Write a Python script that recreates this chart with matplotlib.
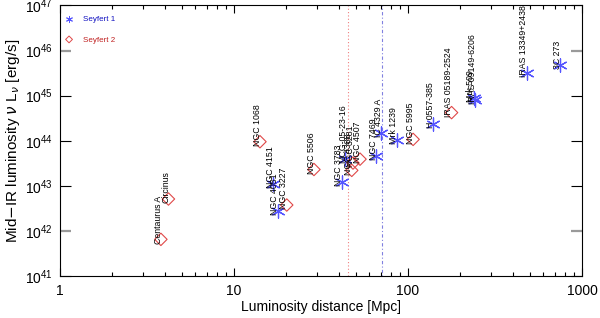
import matplotlib
matplotlib.use("Agg")
import matplotlib.pyplot as plt
from matplotlib.ticker import LogLocator, FixedLocator, NullFormatter

plt.rcParams['font.family'] = ['Liberation Sans', 'DejaVu Sans']

# Seyfert 1 (stars)
sy1_names = ["NGC 4151", "NGC 4051", "NGC 3783", "MCG-05-23-16", "NGC 7469",
             "IC 4329 A", "Mrk 1239", "H 0557-385", "Mrk 509", "IRAS 09149-6206",
             "IRAS 13349+2438", "3C 273"]
sy1_dist = [16.8, 17.8, 41.6, 43.5, 65.5, 70.0, 86.0, 140.0, 238.0, 243.0, 481.0, 748.0]
sy1_lum = [1.08e43, 2.76e42, 1.23e43, 3.9e43, 4.6e43, 1.48e44, 1.04e44, 2.35e44,
           8.8e44, 8.0e44, 3.2e45, 4.8e45]

# Seyfert 2 (diamonds)
sy2_names = ["Centaurus A", "Circinus", "NGC 1068", "NGC 3227", "NGC 5506",
             "NGC 4388", "NGC 3281", "NGC 4507", "NGC 5995", "IRAS 05189-2524"]
sy2_dist = [3.8, 4.2, 14.1, 20.1, 28.8, 47.5, 48.3, 53.0, 107.0, 178.0]
sy2_lum = [6.5e41, 5.1e42, 9.5e43, 3.75e42, 2.3e43, 2.2e43, 3.2e43, 3.9e43, 1.07e44, 4.2e44]

# dotted reference distances
red_line = 45.0
blue_line = 70.6

star_col = "#5555ff"
diam_col = "#e04848"

fig = plt.figure(figsize=(6.0, 3.18), dpi=100)
ax = fig.add_axes([0.1, 0.132, 0.87, 0.851])

ax.axvline(red_line, color="#f08080", lw=0.8, ls=(0, (1, 2)))
ax.axvline(blue_line, color="#8080e0", lw=0.8, ls=(0, (1, 2, 3, 2)))

ax.scatter(sy1_dist, sy1_lum, marker=(6, 2, 0), s=90, color=star_col, lw=0.9, zorder=3)
ax.scatter(sy2_dist, sy2_lum, marker="D", s=40, facecolor="none", edgecolor=diam_col,
           lw=0.8, zorder=3)

for n, x, y in zip(sy1_names, sy1_dist, sy1_lum):
    ax.annotate(n, (x, y), xytext=(-2, -3), textcoords="offset points", rotation=90,
                ha="center", va="bottom", fontsize=6.3, zorder=4)
for n, x, y in zip(sy2_names, sy2_dist, sy2_lum):
    ax.annotate(n, (x, y), xytext=(-2, -3), textcoords="offset points", rotation=90,
                ha="center", va="bottom", fontsize=6.3, zorder=4)

ax.set_xscale("log")
ax.set_yscale("log")
ax.set_xlim(1, 1000)
ax.set_ylim(1e41, 1e47)

ax.xaxis.set_major_locator(FixedLocator([1, 10, 100, 1000]))
ax.set_xticklabels(["1", "10", "100", "1000"])
ax.xaxis.set_minor_locator(LogLocator(base=10, subs=range(2, 10)))
ax.xaxis.set_minor_formatter(NullFormatter())
ax.yaxis.set_major_locator(FixedLocator([1e41, 1e42, 1e43, 1e44, 1e45, 1e46, 1e47]))
ax.yaxis.set_minor_locator(FixedLocator([]))
ax.tick_params(which="both", direction="in", top=True, right=True, labelsize=10, width=0.8)
ax.tick_params(which="major", axis="x", length=6, pad=6)
ax.tick_params(which="minor", axis="x", length=3)
ax.tick_params(which="major", axis="y", length=8, pad=5)
for sp in ax.spines.values():
    sp.set_linewidth(0.8)

# the 10^42 and 10^46 ticks come out grey and thicker in the original
for i in (1, 5):
    t = ax.yaxis.get_major_ticks()[i]
    for ln in (t.tick1line, t.tick2line):
        ln.set_markeredgecolor("#9a9a9a")
        ln.set_markeredgewidth(1.6)

ax.set_xlabel("Luminosity distance [Mpc]", fontsize=10, labelpad=1)
ax.set_ylabel(r"Mid$-$IR luminosity $\nu$ L$_\nu$ [erg/s]", fontsize=11, labelpad=2)

# legend
h1 = ax.scatter([], [], marker=(6, 2, 0), s=20, color=star_col, lw=0.7)
h2 = ax.scatter([], [], marker="D", s=12, facecolor="none", edgecolor=diam_col, lw=0.7)
leg = ax.legend([h1, h2], ["Seyfert 1", "Seyfert 2"], loc="upper left", frameon=False,
                fontsize=5.8, handletextpad=0.7, labelspacing=1.6,
                bbox_to_anchor=(-0.012, 0.99))
leg.get_texts()[0].set_color("#1010c0")
leg.get_texts()[1].set_color("#c02020")

fig.savefig("out.png", dpi=100)
